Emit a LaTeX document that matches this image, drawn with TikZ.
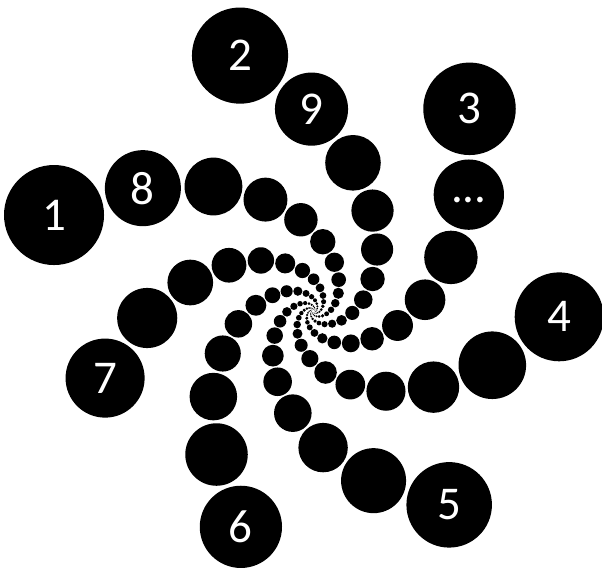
\documentclass[tikz,border=0pt]{standalone}
\usepackage{fontspec}
\setmainfont{Carlito}
\begin{document}
\begin{tikzpicture}[x=1pt,y=1pt,
  dot/.style={circle, fill=black, draw=none, inner sep=0pt, text=white,
    font=\fontsize{47}{47}\selectfont}]
\useasboundingbox (0,0) rectangle (602,570);
\coordinate (ctr) at (313.3,258.7);
\foreach \n in {1,...,135}{
  \pgfmathsetmacro\d{276.6*0.9616^(\n-1)}
  \pgfmathsetmacro\ang{159.63-53.64*(\n-1)}
  \pgfmathsetmacro\px{313.3+\d*cos(\ang)}
  \pgfmathsetmacro\py{258.7+\d*sin(\ang)}
  \pgfmathsetmacro\sz{2*0.1808*\d}
  \ifnum\n<10 \edef\t{\n}\else\ifnum\n=10 \def\t{\raisebox{-5pt}[\height][0pt]{...}}\else\def\t{}\fi\fi
  \node[dot, minimum size=\sz pt] (c\n) at (\px,\py) {\t};
}
\end{tikzpicture}
\end{document}
